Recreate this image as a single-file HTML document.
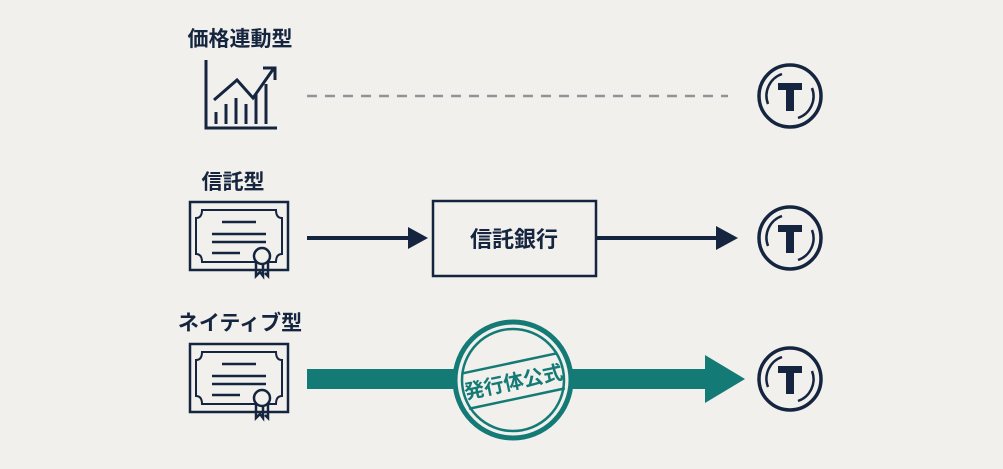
<!DOCTYPE html>
<html><head><meta charset="utf-8"><style>
body{margin:0;background:#f1f0ec;width:1003px;height:469px;overflow:hidden}
svg{display:block}
text{font-family:"Liberation Sans","Noto Sans CJK JP",sans-serif;font-weight:bold;fill:#15253f}
</style></head><body>
<svg width="1003" height="469" viewBox="0 0 1003 469">
<defs>
<g id="coin">
<circle r="31" fill="none" stroke="#15253f" stroke-width="3.5"/>
<path d="M-8,-22 A23,23 0 0 0 -22,8" fill="none" stroke="#15253f" stroke-width="2.5"/>
<path d="M8,22 A23,23 0 0 0 22,-8" fill="none" stroke="#15253f" stroke-width="2.5"/>
<path d="M-12,-13 H12 V-6 H4 V15 H-4 V-6 H-12 Z" fill="#15253f"/>
</g>
<g id="cert" fill="none" stroke="#15253f" stroke-width="2.5">
<rect x="0" y="0" width="98" height="68"/>
<path d="M12,8 H86 Q86,16 92,16 V52 Q86,52 86,60 H12 Q12,52 6,52 V16 Q12,16 12,8 Z" stroke-width="2"/>
<line x1="32" y1="20" x2="66" y2="20"/>
<line x1="22" y1="32" x2="76" y2="32"/>
<line x1="22" y1="40" x2="76" y2="40"/>
<line x1="22" y1="51" x2="50" y2="51"/>
<circle cx="72" cy="54" r="8" fill="#f1f0ec"/>
<path d="M66,61 V74 L70,70 L73,74 V62 M78,61 V74 L75,71" fill="none"/>
</g>
</defs>
<text x="240" y="46" font-size="21" text-anchor="middle">価格連動型</text>
<g fill="none" stroke="#15253f" stroke-width="3">
<path d="M206,60 V128 H277"/>
<path d="M214,100 L237,80 L253,98 L274,68"/>
<path d="M263,68 H275 V80"/>
<path d="M216,124V112 M226,124V104 M236,124V98 M246,124V104 M256,124V94 M266,124V84"/>
</g>
<line x1="307" y1="96" x2="728" y2="96" stroke="#8f9399" stroke-width="2.5" stroke-dasharray="10,8"/>
<use href="#coin" x="790" y="96"/>

<text x="233" y="189" font-size="21" text-anchor="middle">信託型</text>
<use href="#cert" x="190" y="202"/>
<line x1="307" y1="238" x2="412" y2="238" stroke="#15253f" stroke-width="4"/>
<path d="M408,227 L428,238 L408,249 Z" fill="#15253f"/>
<rect x="433" y="201" width="163" height="75" fill="#f1f0ec" stroke="#15253f" stroke-width="2.5"/>
<text x="514" y="247" font-size="22" text-anchor="middle">信託銀行</text>
<line x1="596" y1="238" x2="722" y2="238" stroke="#15253f" stroke-width="4"/>
<path d="M716,226 L738,238 L716,250 Z" fill="#15253f"/>
<use href="#coin" x="790" y="238"/>

<text x="240" y="330" font-size="21" text-anchor="middle">ネイティブ型</text>
<use href="#cert" x="190" y="344"/>
<rect x="307" y="369" width="405" height="20" fill="#147a76"/>
<path d="M705,355 L745,379 L705,403 Z" fill="#147a76"/>
<g transform="translate(513,380)">
<circle r="58" fill="#f1f0ec" stroke="#147a76" stroke-width="5"/>
<circle r="51" fill="none" stroke="#147a76" stroke-width="2.5"/>
<g transform="rotate(-12)">
<line x1="-49" y1="-17" x2="49" y2="-17" stroke="#147a76" stroke-width="2.5"/>
<line x1="-49" y1="19" x2="49" y2="19" stroke="#147a76" stroke-width="2.5"/>
<text x="0" y="9" font-size="20" text-anchor="middle" style="fill:#147a76">発行体公式</text>
</g>
</g>
<use href="#coin" x="790" y="379"/>
</svg>
</body></html>
